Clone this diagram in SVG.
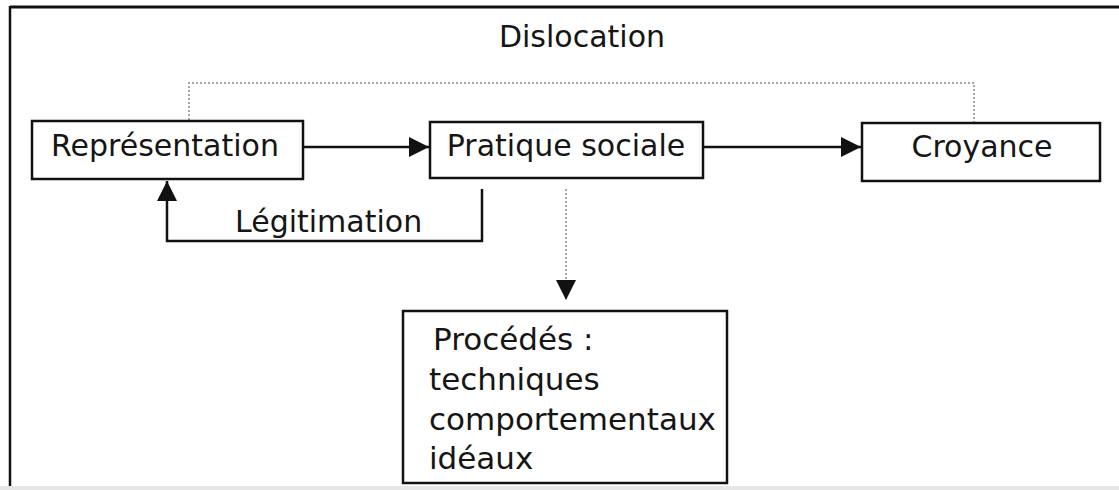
<svg xmlns="http://www.w3.org/2000/svg" width="1119" height="490" viewBox="0 0 1119 490">
<style>
.box{fill:#fff;stroke:#111;stroke-width:2.5}
.lbl{font-family:"DejaVu Sans",sans-serif;font-size:30px;fill:#151515}
.line{fill:none;stroke:#111;stroke-width:2.5}
.dot{fill:none;stroke:#8a8a8a;stroke-width:1.5;stroke-dasharray:2 2}
</style>
<defs>
<marker id="ah" markerUnits="userSpaceOnUse" markerWidth="20" markerHeight="20" viewBox="0 0 20 20" refX="20" refY="10" orient="auto">
<path d="M0,0 L20,10 L0,20 Z" fill="#111"/>
</marker>
</defs>
<rect x="0" y="0" width="1119" height="490" fill="#fff"/>
<rect x="0" y="486" width="1119" height="4" fill="#e6e6e6"/>
<line x1="10" y1="7" x2="1119" y2="7" stroke="#111" stroke-width="3"/>
<line x1="10" y1="6" x2="10" y2="486" stroke="#111" stroke-width="2.5"/>
<g id="connectors">
<polyline class="dot" points="189,120 189,83 974,83 974,123"/>
<line class="line" x1="303" y1="147" x2="429" y2="147" marker-end="url(#ah)"/>
<line class="line" x1="703" y1="147" x2="861" y2="147" marker-end="url(#ah)"/>
<polyline class="line" points="482,189 482,241 167,241 167,181" marker-end="url(#ah)"/>
<line class="dot" x1="566" y1="189" x2="566" y2="300" marker-end="url(#ah)"/>
<text class="lbl" x="235" y="232">Légitimation</text>
<text class="lbl" x="582" y="47" text-anchor="middle">Dislocation</text>
</g>
<g id="representation">
<rect class="box" x="32" y="121" width="271" height="58"/>
<text class="lbl" x="165" y="156" text-anchor="middle">Représentation</text>
</g>
<g id="pratique">
<rect class="box" x="430" y="122" width="273" height="56"/>
<text class="lbl" x="566" y="156" text-anchor="middle">Pratique sociale</text>
</g>
<g id="croyance">
<rect class="box" x="862" y="123" width="238" height="58"/>
<text class="lbl" x="982" y="157" text-anchor="middle">Croyance</text>
</g>
<g id="procedes">
<rect class="box" x="403" y="311" width="324" height="172"/>
<text class="lbl" x="433" y="350" style="font-size:31px">Procédés :</text>
<text class="lbl" x="429" y="390" style="font-size:31px">techniques</text>
<text class="lbl" x="429" y="430" style="font-size:31px">comportementaux</text>
<text class="lbl" x="429" y="469" style="font-size:31px">idéaux</text>
</g>
</svg>
